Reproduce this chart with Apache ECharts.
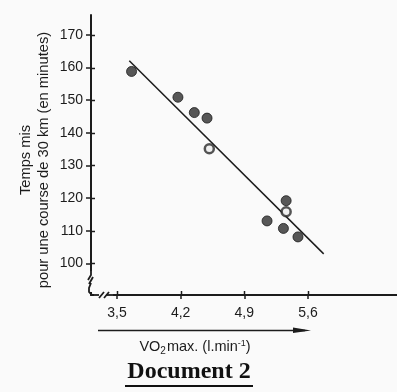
<!DOCTYPE html>
<html><head><meta charset="utf-8">
<script src="https://cdn.jsdelivr.net/npm/echarts@6/dist/echarts.min.js"></script>
<style>html,body{margin:0;padding:0;background:#fafafa;}#c{width:397px;height:392px;}</style>
</head><body><div id="c"></div>
<script>
// VO2 max (l/min) and race time (minutes)
const filledX = [3.66, 4.17, 4.35, 4.49, 5.15, 5.33, 5.36, 5.49];
const filledY = [158.8, 150.9, 146.2, 144.5, 113.0, 110.7, 119.2, 108.1];
const openX = [4.515, 5.36];
const openY = [135.1, 115.8];
const trendX = [3.635, 5.773];
const trendY = [162.1, 102.9];
const xTickValues = [3.5, 4.2, 4.9, 5.6];
const yTickValues = [100, 110, 120, 130, 140, 150, 160, 170];

const xMin = 3.214, xMax = 6.579, yMin = 90.3, yMax = 176.1;
const ink = '#1c1c1c';
const font = 'Liberation Sans, Arial, sans-serif';

const chart = echarts.init(document.getElementById('c'));
function zip(a, b) { return a.map((v, i) => [v, b[i]]); }
function fmtX(v) { return String(v).replace('.', ','); }

chart.setOption({
  animation: false,
  backgroundColor: '#fafafa',
  grid: { left: 91, top: 15, right: 0, bottom: 97 },
  xAxis: {
    type: 'value', min: xMin, max: xMax, position: 'bottom',
    splitLine: { show: false },
    axisLine: { show: true, onZero: false, lineStyle: { color: ink, width: 2 } },
    axisTick: { show: true, length: 4, customValues: xTickValues, lineStyle: { color: ink, width: 1.5 } },
    axisLabel: { show: true, customValues: xTickValues, formatter: fmtX, color: ink, fontSize: 14, fontFamily: font, margin: 11 }
  },
  yAxis: {
    type: 'value', min: yMin, max: yMax, position: 'left',
    splitLine: { show: false },
    axisLine: { show: true, onZero: false, lineStyle: { color: ink, width: 2 } },
    axisTick: { show: true, length: 5, customValues: yTickValues, lineStyle: { color: ink, width: 1.5 } },
    axisLabel: { show: true, customValues: yTickValues, color: ink, fontSize: 14, fontFamily: font, margin: 8 }
  },
  series: [
    {
      type: 'line', data: zip(trendX, trendY), symbol: 'none',
      lineStyle: { color: ink, width: 1.5 }, z: 2
    },
    {
      type: 'scatter', data: zip(filledX, filledY), symbol: 'circle', symbolSize: 10,
      itemStyle: { color: '#2e2e2e', borderColor: '#1c1c1c', borderWidth: 1 }, z: 3
    },
    {
      type: 'scatter', data: zip(openX, openY), symbol: 'circle', symbolSize: 9,
      itemStyle: { color: '#eee', borderColor: '#2a2a2a', borderWidth: 2.5 }, z: 3
    }
  ]
});

// decorations computed from the axes
const corner = chart.convertToPixel({ gridIndex: 0 }, [xMin, yMin]);
const ax = corner[0], ay = corner[1];
const bg = '#fafafa';
const s = { stroke: ink, lineWidth: 1.8, fill: null };
const tickStyle = { stroke: ink, lineWidth: 1.5 };
const innerTicks = [];
yTickValues.forEach(v => {
  const py = Math.round(chart.convertToPixel({ yAxisIndex: 0 }, v)) + 0.5;
  innerTicks.push({ type: 'line', shape: { x1: ax, y1: py, x2: ax + 4, y2: py }, style: tickStyle, z: 101 });
});
xTickValues.forEach(v => {
  const px = Math.round(chart.convertToPixel({ xAxisIndex: 0 }, v)) + 0.5;
  innerTicks.push({ type: 'line', shape: { x1: px, y1: ay, x2: px, y2: ay - 4 }, style: tickStyle, z: 101 });
});

chart.setOption({
  graphic: innerTicks.concat([
    // y-axis break
    { type: 'rect', shape: { x: ax - 5, y: ay - 24, width: 10, height: 21 }, style: { fill: bg }, z: 100 },
    { type: 'polyline', shape: { points: [[ax, ay - 24], [ax, ay - 20], [ax - 3, ay - 15]] }, style: s, z: 101 },
    { type: 'polyline', shape: { points: [[ax + 2, ay - 18], [ax - 2, ay - 11]] }, style: s, z: 101 },
    { type: 'polyline', shape: { points: [[ax, ay - 12], [ax - 2, ay - 7], [ax - 2, ay - 3], [ax + 1, ay]] }, style: s, z: 101 },
    // x-axis break
    { type: 'rect', shape: { x: ax + 3, y: ay - 4, width: 19, height: 8 }, style: { fill: bg }, z: 100 },
    { type: 'polyline', shape: { points: [[ax, ay], [ax + 8, ay]] }, style: s, z: 101 },
    { type: 'polyline', shape: { points: [[ax + 8, ay + 3], [ax + 13, ay - 3]] }, style: s, z: 101 },
    { type: 'polyline', shape: { points: [[ax + 13, ay + 3], [ax + 18, ay - 3]] }, style: s, z: 101 },
    { type: 'polyline', shape: { points: [[ax + 15, ay], [ax + 22, ay]] }, style: s, z: 101 },
    // y-axis title
    { type: 'text', x: 35, y: 160, rotation: Math.PI / 2,
      style: { text: 'Temps mis\npour une course de 30 km (en minutes)', align: 'center', verticalAlign: 'middle',
        fill: ink, font: '14.7px ' + font, lineHeight: 18 }, z: 101 },
    // arrow under x axis
    { type: 'line', shape: { x1: 98, y1: 330.5, x2: 305, y2: 330.5 }, style: { stroke: ink, lineWidth: 1.5 }, z: 101 },
    { type: 'polygon', shape: { points: [[293, 327.5], [311, 330.5], [293, 333]] }, style: { fill: ink }, z: 101 },
    // x-axis title
    { type: 'text', x: 195, y: 347,
      style: { text: '{n|VO}{sub|2}{n|max. (l.min}{sup|-1}{n|)}', align: 'center', verticalAlign: 'middle',
        rich: {
          n: { fontSize: 14.5, fontFamily: font, fill: ink, color: ink },
          sub: { fontSize: 10, fontFamily: font, fill: ink, color: ink, padding: [9, 1, 0, 0] },
          sup: { fontSize: 9, fontFamily: font, fill: ink, color: ink, padding: [0, 0, 7, 0] }
        } }, z: 101 },
    // document caption
    { type: 'text', x: 189, y: 372,
      style: { text: 'Document 2', align: 'center', verticalAlign: 'middle', fill: '#111',
        font: 'bold 24px "Liberation Serif", "Times New Roman", serif' }, z: 101 },
    { type: 'line', shape: { x1: 125, y1: 386, x2: 253, y2: 386 }, style: { stroke: '#111', lineWidth: 1.8 }, z: 101 }
  ])
});
</script>
</body></html>
